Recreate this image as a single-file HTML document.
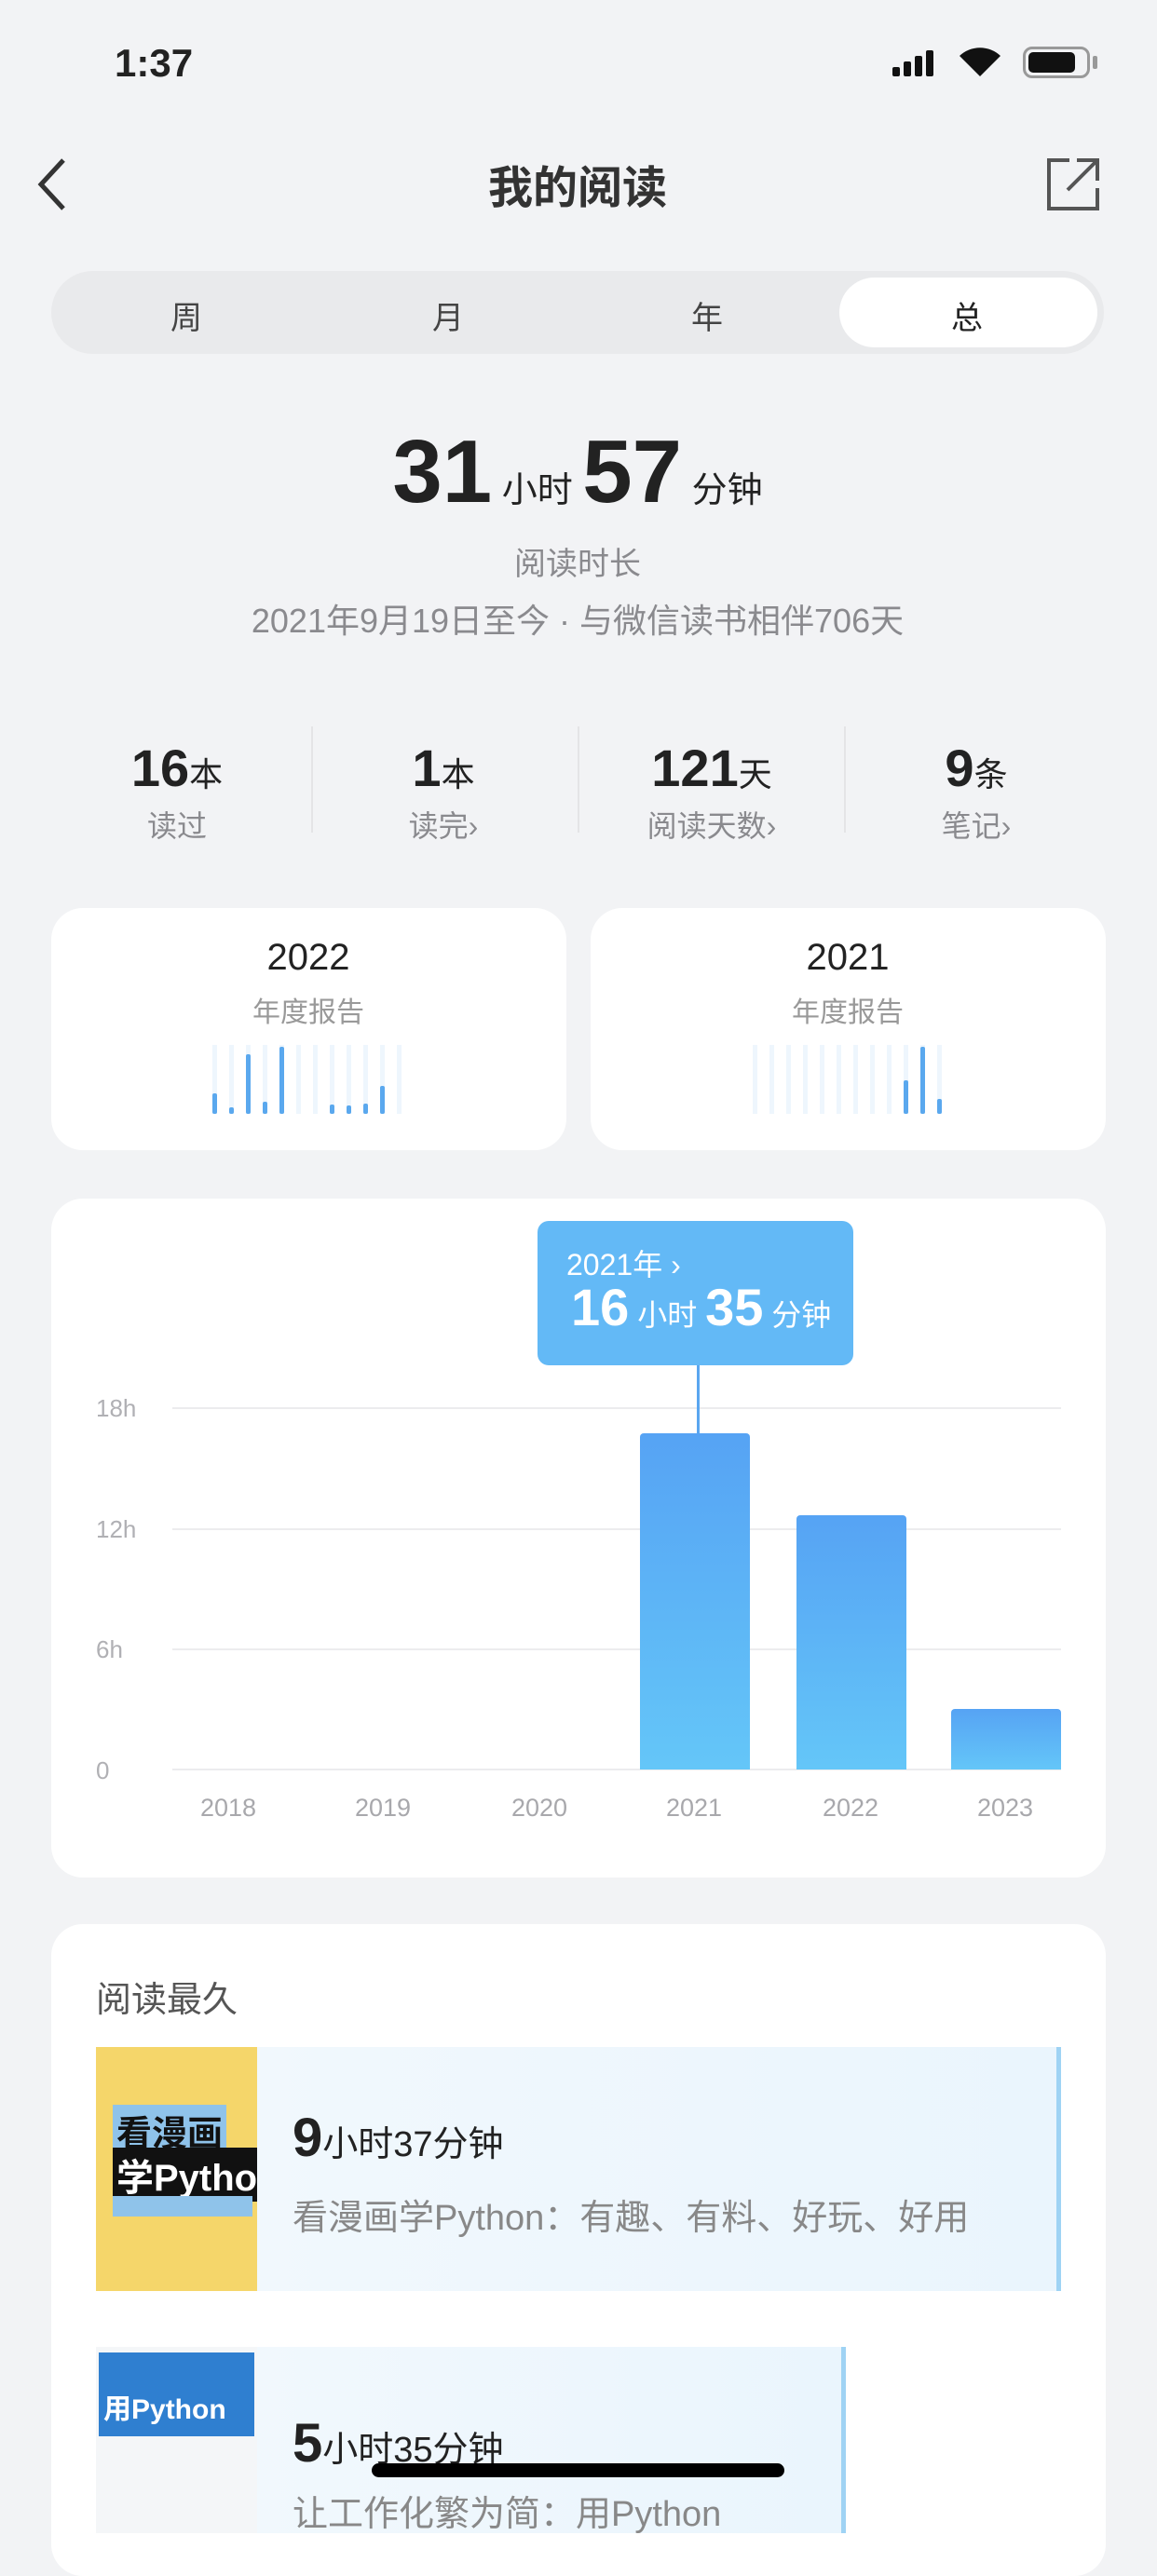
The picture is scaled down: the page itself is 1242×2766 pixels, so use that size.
<!DOCTYPE html>
<html><head><meta charset="utf-8"><style>
*{margin:0;padding:0;box-sizing:border-box}
body{width:1242px;height:2688px;background:#f2f3f5;position:relative;overflow:hidden;font-family:"Liberation Sans","Noto Sans CJK SC",sans-serif;color:#222}
.a{position:absolute;white-space:nowrap}
.c{transform:translateX(-50%)}
.card{position:absolute;background:#fff;border-radius:34px}
.g{color:#8a8a8e}
.grid{position:absolute;left:185px;width:954px;height:2px;background:#ececee}
.yl{position:absolute;left:103px;font-size:26px;color:#b0b0b4}
.xl{position:absolute;top:1926px;font-size:27px;color:#a8a8ac;transform:translateX(-50%)}
.bar{position:absolute;background:linear-gradient(#56a3f4,#64c6f8);border-radius:4px 4px 0 0}
.mb{position:absolute;bottom:0;width:5px;border-radius:2px;background:#5aa8ee}
.mbg{position:absolute;bottom:0;width:5px;height:74px;background:#eef6fd}
</style></head><body>
<div class="a" style="left:123px;top:44px;font-size:42px;font-weight:bold">1:37</div>
<div class="a" style="left:958px;top:52px;width:50px;height:30px">
<div style="position:absolute;left:0;bottom:0;width:8px;height:10px;background:#111;border-radius:2px"></div>
<div style="position:absolute;left:12px;bottom:0;width:8px;height:16px;background:#111;border-radius:2px"></div>
<div style="position:absolute;left:24px;bottom:0;width:8px;height:22px;background:#111;border-radius:2px"></div>
<div style="position:absolute;left:36px;bottom:0;width:8px;height:28px;background:#111;border-radius:2px"></div></div>
<svg class="a" style="left:1028px;top:48px" width="48" height="36"><path d="M24 34 L2 12 A32 32 0 0 1 46 12 Z" fill="#111"/></svg>
<div class="a" style="left:1098px;top:50px;width:72px;height:34px;border:3px solid #999;border-radius:10px"><div style="position:absolute;left:3px;top:3px;width:50px;height:22px;background:#111;border-radius:5px"></div></div>
<div class="a" style="left:1173px;top:60px;width:5px;height:14px;background:#999;border-radius:2px"></div>
<svg class="a" style="left:36px;top:168px" width="40" height="60"><path d="M32 4 L8 30 L32 56" stroke="#333" stroke-width="5" fill="none"/></svg>
<div class="a c" style="left:620px;top:162px;font-size:48px;font-weight:bold;color:#333">我的阅读</div>
<svg class="a" style="left:1122px;top:168px" width="60" height="60"><path d="M26 4 H4 V56 H56 V34" stroke="#555" stroke-width="4" fill="none"/><path d="M24 36 L54 6 M34 4 H56 V26" stroke="#555" stroke-width="4" fill="none"/></svg>
<div class="a" style="left:55px;top:291px;width:1130px;height:89px;background:#e9eaec;border-radius:45px"></div>
<div class="a" style="left:901px;top:298px;width:277px;height:75px;background:#fff;border-radius:38px"></div>
<div class="a c" style="left:200px;top:314px;font-size:34px;color:#444">周</div>
<div class="a c" style="left:481px;top:314px;font-size:34px;color:#444">月</div>
<div class="a c" style="left:759px;top:314px;font-size:34px;color:#444">年</div>
<div class="a c" style="left:1038px;top:314px;font-size:34px;color:#222">总</div>
<div class="a c" style="left:620px;top:452px;color:#222"><span style="font-size:96px;font-weight:bold">31</span><span style="font-size:38px"> 小时 </span><span style="font-size:96px;font-weight:bold">57</span><span style="font-size:38px"> 分钟</span></div>
<div class="a c g" style="left:620px;top:578px;font-size:34px">阅读时长</div>
<div class="a c g" style="left:620px;top:638px;font-size:36px">2021年9月19日至今 · 与微信读书相伴706天</div>
<div class="a c" style="left:190px;top:792px"><span style="font-size:56px;font-weight:bold;color:#222">16</span><span style="font-size:36px">本</span></div>
<div class="a c g" style="left:190px;top:862px;font-size:32px">读过</div>
<div class="a c" style="left:476px;top:792px"><span style="font-size:56px;font-weight:bold">1</span><span style="font-size:36px">本</span></div>
<div class="a c g" style="left:476px;top:862px;font-size:32px">读完›</div>
<div class="a c" style="left:764px;top:792px"><span style="font-size:56px;font-weight:bold">121</span><span style="font-size:36px">天</span></div>
<div class="a c g" style="left:764px;top:862px;font-size:32px">阅读天数›</div>
<div class="a c" style="left:1048px;top:792px"><span style="font-size:56px;font-weight:bold">9</span><span style="font-size:36px">条</span></div>
<div class="a c g" style="left:1048px;top:862px;font-size:32px">笔记›</div>
<div class="a" style="left:334px;top:780px;width:2px;height:114px;background:#e4e4e6"></div>
<div class="a" style="left:620px;top:780px;width:2px;height:114px;background:#e4e4e6"></div>
<div class="a" style="left:906px;top:780px;width:2px;height:114px;background:#e4e4e6"></div>
<div class="card" style="left:55px;top:975px;width:553px;height:260px"></div>
<div class="card" style="left:634px;top:975px;width:553px;height:260px"></div>
<div class="a c" style="left:331px;top:1006px;font-size:40px;color:#222">2022</div>
<div class="a c g" style="left:331px;top:1062px;font-size:30px;color:#999">年度报告</div>
<div class="a c" style="left:910px;top:1006px;font-size:40px;color:#222">2021</div>
<div class="a c g" style="left:910px;top:1062px;font-size:30px;color:#999">年度报告</div>
<div class="a" style="left:228px;top:1122px;width:210px;height:74px">
<div class="mbg" style="left:0"></div><div class="mbg" style="left:18px"></div><div class="mbg" style="left:36px"></div><div class="mbg" style="left:54px"></div><div class="mbg" style="left:72px"></div><div class="mbg" style="left:90px"></div><div class="mbg" style="left:108px"></div><div class="mbg" style="left:126px"></div><div class="mbg" style="left:144px"></div><div class="mbg" style="left:162px"></div><div class="mbg" style="left:180px"></div><div class="mbg" style="left:198px"></div>
<div class="mb" style="left:0;height:22px"></div><div class="mb" style="left:18px;height:7px"></div><div class="mb" style="left:36px;height:64px"></div><div class="mb" style="left:54px;height:13px"></div><div class="mb" style="left:72px;height:72px"></div><div class="mb" style="left:126px;height:10px"></div><div class="mb" style="left:144px;height:9px"></div><div class="mb" style="left:162px;height:11px"></div><div class="mb" style="left:180px;height:30px"></div></div>
<div class="a" style="left:808px;top:1122px;width:210px;height:74px">
<div class="mbg" style="left:0"></div><div class="mbg" style="left:18px"></div><div class="mbg" style="left:36px"></div><div class="mbg" style="left:54px"></div><div class="mbg" style="left:72px"></div><div class="mbg" style="left:90px"></div><div class="mbg" style="left:108px"></div><div class="mbg" style="left:126px"></div><div class="mbg" style="left:144px"></div><div class="mbg" style="left:162px"></div><div class="mbg" style="left:180px"></div><div class="mbg" style="left:198px"></div>
<div class="mb" style="left:162px;height:36px"></div><div class="mb" style="left:180px;height:72px"></div><div class="mb" style="left:198px;height:16px"></div></div>
<div class="card" style="left:55px;top:1287px;width:1132px;height:729px"></div>
<div class="grid" style="top:1511px"></div>
<div class="grid" style="top:1641px"></div>
<div class="grid" style="top:1770px"></div>
<div class="grid" style="top:1899px"></div>
<div class="yl" style="top:1497px">18h</div>
<div class="yl" style="top:1627px">12h</div>
<div class="yl" style="top:1756px">6h</div>
<div class="yl" style="top:1886px">0</div>
<div class="bar" style="left:687px;top:1539px;width:118px;height:361px"></div>
<div class="bar" style="left:855px;top:1627px;width:118px;height:273px"></div>
<div class="bar" style="left:1021px;top:1835px;width:118px;height:65px"></div>
<div class="a" style="left:748px;top:1465px;width:3px;height:74px;background:#5aa6f0"></div>
<div class="a" style="left:577px;top:1311px;width:339px;height:155px;background:#63b9f6;border-radius:12px;color:#fff">
<div style="position:absolute;left:31px;top:22px;font-size:32px">2021年 ›</div>
<div style="position:absolute;left:36px;top:60px"><span style="font-size:56px;font-weight:bold">16</span><span style="font-size:32px"> 小时 </span><span style="font-size:56px;font-weight:bold">35</span><span style="font-size:32px"> 分钟</span></div></div>
<div class="xl" style="left:245px">2018</div>
<div class="xl" style="left:411px">2019</div>
<div class="xl" style="left:579px">2020</div>
<div class="xl" style="left:745px">2021</div>
<div class="xl" style="left:913px">2022</div>
<div class="xl" style="left:1079px">2023</div>
<div class="card" style="left:55px;top:2066px;width:1132px;height:700px"></div>
<div class="a" style="left:103px;top:2116px;font-size:38px;color:#555">阅读最久</div>
<div class="a" style="left:276px;top:2198px;width:863px;height:262px;background:linear-gradient(90deg,#f1f8fd,#eaf5fd);border-right:5px solid #9fd3f4"></div>
<div class="a" style="left:103px;top:2198px;width:173px;height:262px;background:#f5d66a;overflow:hidden">
<div style="position:absolute;left:18px;top:62px;background:#8fc3ea;font-size:38px;font-weight:bold;color:#111;padding:0 4px">看漫画</div>
<div style="position:absolute;left:18px;top:108px;width:160px;background:#111;font-size:40px;font-weight:bold;color:#fff;padding:0 4px">学Python</div>
<div style="position:absolute;left:18px;top:160px;width:150px;height:22px;background:#8fc3ea"></div></div>
<div class="a" style="left:314px;top:2262px"><span style="font-size:58px;font-weight:bold">9</span><span style="font-size:38px">小时37分钟</span></div>
<div class="a" style="left:314px;top:2350px;font-size:38px;color:#888">看漫画学Python：有趣、有料、好玩、好用</div>
<div class="a" style="left:276px;top:2520px;width:632px;height:200px;background:linear-gradient(90deg,#f1f8fd,#eaf5fd);border-right:5px solid #9fd3f4"></div>
<div class="a" style="left:103px;top:2520px;width:173px;height:200px;background:#f4f6f8;overflow:hidden">
<div style="position:absolute;left:3px;top:6px;width:167px;height:90px;background:#2f7fd0"></div>
<div style="position:absolute;left:8px;top:42px;font-size:30px;font-weight:bold;color:#fff">用Python</div></div>
<div class="a" style="left:314px;top:2590px"><span style="font-size:58px;font-weight:bold">5</span><span style="font-size:38px">小时35分钟</span></div>
<div class="a" style="left:314px;top:2668px;font-size:38px;color:#888">让工作化繁为简：用Python</div>
<div class="a" style="left:399px;top:2645px;width:443px;height:15px;background:#000;border-radius:8px"></div>
</body></html>
